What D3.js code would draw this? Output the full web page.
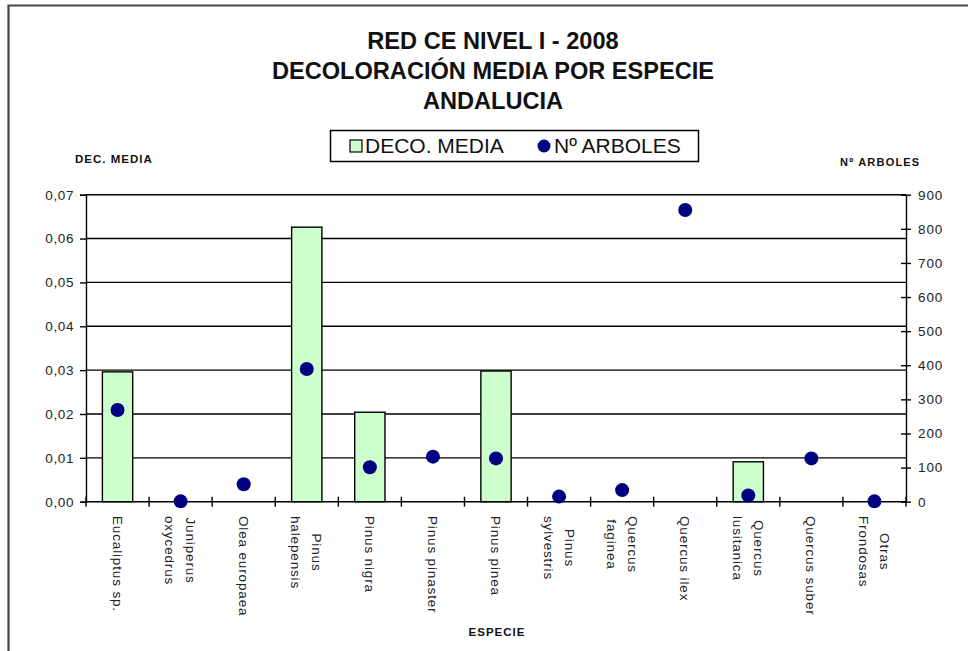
<!DOCTYPE html>
<html><head><meta charset="utf-8">
<script src="https://cdn.jsdelivr.net/npm/d3@7"></script>
<style>
html,body{margin:0;padding:0;background:#fff;}
svg{display:block;font-family:"Liberation Sans",Arial,sans-serif;}
</style></head>
<body>
<svg id="c" width="968" height="651"></svg>
<script>
const categories = ["Eucaliptus sp.","Juniperus\noxycedrus","Olea europaea","Pinus\nhalepensis","Pinus nigra","Pinus pinaster","Pinus pinea","Pinus\nsylvestris","Quercus\nfaginea","Quercus ilex","Quercus\nlusitanica","Quercus suber","Otras\nFrondosas"];
const decoMedia = [0.0296, 0, 0, 0.0626, 0.0204, 0, 0.0298, 0, 0, 0, 0.0091, 0, 0];
const arboles = [269, 1, 51, 389, 101, 132, 127, 15, 34, 855, 18, 127, 1];
const leftTicks = [0, 0.01, 0.02, 0.03, 0.04, 0.05, 0.06, 0.07];
const rightTicks = [0, 100, 200, 300, 400, 500, 600, 700, 800, 900];
const titleLines = ["RED CE NIVEL I - 2008", "DECOLORACIÓN MEDIA POR ESPECIE", "ANDALUCIA"];
const legendLabels = ["DECO. MEDIA", "Nº ARBOLES"];

const svg = d3.select("#c");
const L = 86, R = 906, T = 194.7, B = 501.7;

// frame
svg.append("path").attr("d", `M8.5,651 V5.5 H968`).attr("fill","none").attr("stroke","#444").attr("stroke-width",2.2);

// title
svg.append("g").selectAll("text").data(titleLines).join("text")
  .attr("x", 493).attr("y", (d,i)=>49 + i*30)
  .attr("text-anchor","middle").attr("font-size",23.6).attr("font-weight","bold").attr("fill","#111")
  .text(d=>d);

const x = d3.scaleBand().domain(categories).range([L, R]).padding(0);
const y0 = d3.scaleLinear().domain([0, 0.07]).range([B, T]);
const y1 = d3.scaleLinear().domain([0, 900]).range([B, T]);

// gridlines
svg.append("g").selectAll("line").data(leftTicks.slice(1)).join("line")
  .attr("x1", L).attr("x2", R).attr("y1", d=>y0(d)).attr("y2", d=>y0(d))
  .attr("stroke","#000").attr("stroke-width",1.4);

// bars
const bw = x.bandwidth()*0.48;
svg.append("g").selectAll("rect").data(categories.map((c,i)=>({c, v:decoMedia[i]})).filter(d=>d.v>0)).join("rect")
  .attr("x", d=>x(d.c)+x.bandwidth()/2 - bw/2).attr("width", bw)
  .attr("y", d=>y0(d.v)).attr("height", d=>y0(0)-y0(d.v))
  .attr("fill","#ccffcc").attr("stroke","#000").attr("stroke-width",1.4);

// left axis
const fmt = d3.format(".2f");
const lax = d3.axisLeft(y0).tickValues(leftTicks).tickSize(6).tickPadding(6).tickFormat(d=>fmt(d).replace(".", ","));
const gL = svg.append("g").attr("transform",`translate(${L},0)`).call(lax);
gL.select(".domain").attr("stroke","#000").attr("stroke-width",1.4);
gL.selectAll(".tick line").attr("stroke","#000").attr("stroke-width",1.4);
gL.selectAll("text").attr("font-size",13.5).attr("fill","#222").attr("font-family",null).style("letter-spacing","0.6px");

// right axis (cross ticks)
const rax = d3.axisRight(y1).tickValues(rightTicks).tickSizeInner(5).tickSizeOuter(0).tickPadding(7);
const gR = svg.append("g").attr("transform",`translate(${R},0)`).call(rax);
gR.select(".domain").attr("stroke","#000").attr("stroke-width",1.4);
gR.selectAll(".tick line").attr("x1",-5).attr("x2",5).attr("stroke","#000").attr("stroke-width",1.4);
gR.selectAll("text").attr("font-size",13.5).attr("fill","#222").attr("font-family",null).style("letter-spacing","0.9px");

// x axis line + cross ticks at band boundaries
const bounds = d3.range(categories.length + 1).map(k => L + k*x.step());
svg.append("line").attr("x1",L).attr("x2",R).attr("y1",B).attr("y2",B).attr("stroke","#000").attr("stroke-width",1.4);
svg.append("g").selectAll("line").data(bounds).join("line")
  .attr("x1",d=>d).attr("x2",d=>d).attr("y1",B-5).attr("y2",B+5)
  .attr("stroke","#000").attr("stroke-width",1.4);

// x labels rotated clockwise
const lg = svg.append("g");
categories.forEach(c => {
  const lines = c.split("\n");
  const cx = x(c) + x.bandwidth()/2;
  const g = lg.append("g").attr("transform", `translate(${cx},516) rotate(90)`);
  const texts = lines.map((ln, i) => g.append("text")
    .attr("font-size",13.5).attr("fill","#222").style("letter-spacing","0.85px")
    .attr("text-anchor","middle")
    .attr("y", (i - (lines.length-1)/2)*21 + 5)
    .text(ln));
  const maxLen = d3.max(texts, t => t.node().getComputedTextLength());
  texts.forEach(t => t.attr("x", maxLen/2));
});

// dots
svg.append("g").selectAll("circle").data(categories.map((c,i)=>({c, v:arboles[i]}))).join("circle")
  .attr("cx", d=>x(d.c)+x.bandwidth()/2).attr("cy", d=>y1(d.v)).attr("r",7)
  .attr("fill","#000080");

// axis titles
svg.append("text").attr("x",75).attr("y",163).attr("font-size",11.5).attr("font-weight","bold").attr("fill","#111").style("letter-spacing","1px").text("DEC. MEDIA");
svg.append("text").attr("x",840).attr("y",166).attr("font-size",11).attr("font-weight","bold").attr("fill","#111").style("letter-spacing","1.2px").text("Nº ARBOLES");
svg.append("text").attr("x",497).attr("y",636).attr("text-anchor","middle").attr("font-size",11.5).attr("font-weight","bold").attr("fill","#111").style("letter-spacing","1px").text("ESPECIE");

// legend
const leg = svg.append("g");
leg.append("rect").attr("x",330.5).attr("y",130.5).attr("width",368).attr("height",31).attr("fill","#fff").attr("stroke","#000").attr("stroke-width",1.5);
leg.append("rect").attr("x",350).attr("y",140).attr("width",12).attr("height",12).attr("fill","#ccffcc").attr("stroke","#000").attr("stroke-width",1.2);
leg.append("text").attr("x",365).attr("y",153).attr("font-size",21).attr("fill","#111").text(legendLabels[0]);
leg.append("circle").attr("cx",544).attr("cy",146).attr("r",6.5).attr("fill","#000080");
leg.append("text").attr("x",554).attr("y",153).attr("font-size",21).attr("fill","#111").text(legendLabels[1]);
</script>
</body></html>
